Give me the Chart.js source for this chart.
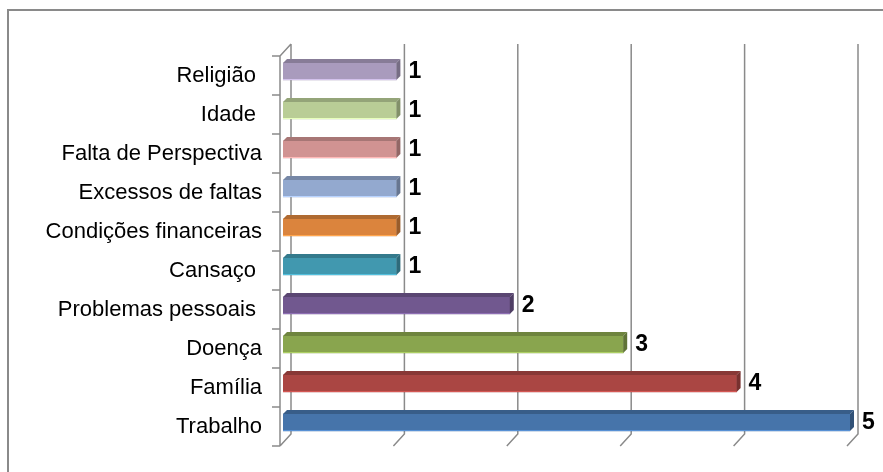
<!DOCTYPE html>
<html>
<head>
<meta charset="utf-8">
<script src="https://cdn.jsdelivr.net/npm/chart.js@4.4.1/dist/chart.umd.min.js"></script>
<style>
  html, body { margin: 0; padding: 0; background: #fff; overflow: hidden; }
</style>
</head>
<body>
<canvas id="myChart" width="883" height="472"></canvas>
<script>
const categories = ['Religião ', 'Idade ', 'Falta de Perspectiva', 'Excessos de faltas', 'Condições financeiras', 'Cansaço ', 'Problemas pessoais ', 'Doença', 'Família', 'Trabalho'];
const values = [1, 1, 1, 1, 1, 1, 2, 3, 4, 5];
const barColors = ['#A99BBD', '#B9CD96', '#D19392', '#93A9CF', '#DB843D', '#4198AF', '#71588F', '#89A54E', '#AA4643', '#4674AA'];
const xTicks = [0, 1, 2, 3, 4, 5];

// depth offsets of the 3d box: back wall and front edge relative to the bar plane
const BACK = { dx: 8, dy: -8 };
const FRONT = { dx: -3, dy: 4 };
const BAR_DEPTH = 4;
const LINE = '#8a8a8a';

function shade(hex, f) {
  const n = parseInt(hex.slice(1), 16);
  const r = Math.min(255, Math.round(((n >> 16) & 255) * f));
  const g = Math.min(255, Math.round(((n >> 8) & 255) * f));
  const b = Math.min(255, Math.round((n & 255) * f));
  return `rgb(${r},${g},${b})`;
}

const frame3d = {
  id: 'frame3d',
  beforeDraw(chart) {
    const c = chart.ctx;
    c.save();
    c.strokeStyle = LINE;
    c.lineWidth = 2;
    c.strokeRect(8, 10, 900, 500);
    c.restore();
  },
  beforeDatasetsDraw(chart) {
    const c = chart.ctx;
    const { top, bottom, left } = chart.chartArea;
    const x = chart.scales.x;
    c.save();
    c.strokeStyle = LINE;
    c.lineWidth = 1.5;
    c.beginPath();
    // back wall grid lines and their floor diagonals
    xTicks.forEach(v => {
      const px = x.getPixelForValue(v);
      c.moveTo(px + BACK.dx, top + BACK.dy);
      c.lineTo(px + BACK.dx, bottom + BACK.dy);
      c.lineTo(px + FRONT.dx, bottom + FRONT.dy);
    });
    // front edge of the left wall
    const fx = left + FRONT.dx;
    c.moveTo(left + BACK.dx, top + BACK.dy);
    c.lineTo(fx, top + FRONT.dy);
    c.lineTo(fx, bottom + FRONT.dy);
    // category tick marks
    const step = (bottom - top) / categories.length;
    for (let k = 0; k <= categories.length; k++) {
      const ty = top + k * step + FRONT.dy;
      c.moveTo(fx - 8, ty);
      c.lineTo(fx, ty);
    }
    c.stroke();
    c.restore();
  },
  afterDatasetsDraw(chart) {
    const c = chart.ctx;
    const meta = chart.getDatasetMeta(0);
    c.save();
    meta.data.forEach((bar, i) => {
      const col = barColors[i];
      const t = bar.y - bar.height / 2;
      const b = bar.y + bar.height / 2;
      // top face
      c.fillStyle = shade(col, 0.8);
      c.beginPath();
      c.moveTo(bar.base, t);
      c.lineTo(bar.x, t);
      c.lineTo(bar.x + BAR_DEPTH, t - BAR_DEPTH);
      c.lineTo(bar.base + BAR_DEPTH, t - BAR_DEPTH);
      c.closePath();
      c.fill();
      // end face
      c.fillStyle = shade(col, 0.7);
      c.beginPath();
      c.moveTo(bar.x, t);
      c.lineTo(bar.x + BAR_DEPTH, t - BAR_DEPTH);
      c.lineTo(bar.x + BAR_DEPTH, b - BAR_DEPTH);
      c.lineTo(bar.x, b);
      c.closePath();
      c.fill();
      // light lower edge
      c.fillStyle = shade(col, 1.25);
      c.fillRect(bar.base, b - 1, bar.x - bar.base, 1);
      // value label
      c.fillStyle = '#000';
      c.font = 'bold 23px "Liberation Sans", Arial, sans-serif';
      c.textAlign = 'left';
      c.textBaseline = 'middle';
      c.fillText(String(values[i]), bar.x + BAR_DEPTH + 8, bar.y);
    });
    c.restore();
  }
};

const ctx = document.getElementById('myChart');

new Chart(ctx, {
  type: 'bar',
  data: {
    labels: categories,
    datasets: [{
      data: values,
      backgroundColor: barColors,
      barThickness: 17
    }]
  },
  options: {
    indexAxis: 'y',
    responsive: false,
    animation: false,
    devicePixelRatio: 1,
    layout: { padding: { left: 8, right: 33, top: 52, bottom: 30 } },
    plugins: {
      legend: { display: false },
      tooltip: { enabled: false }
    },
    scales: {
      x: {
        display: false,
        min: 0,
        max: 5
      },
      y: {
        grid: { display: false, drawTicks: false },
        border: { display: false },
        ticks: {
          color: '#000',
          padding: 21,
          labelOffset: 4,
          font: { family: '"Liberation Sans", Arial, sans-serif', size: 22 }
        },
        afterFit(scale) {
          scale.width = 275;
          scale.paddingTop = 0;
          scale.paddingBottom = 0;
        }
      }
    }
  },
  plugins: [frame3d]
});
</script>
</body>
</html>
